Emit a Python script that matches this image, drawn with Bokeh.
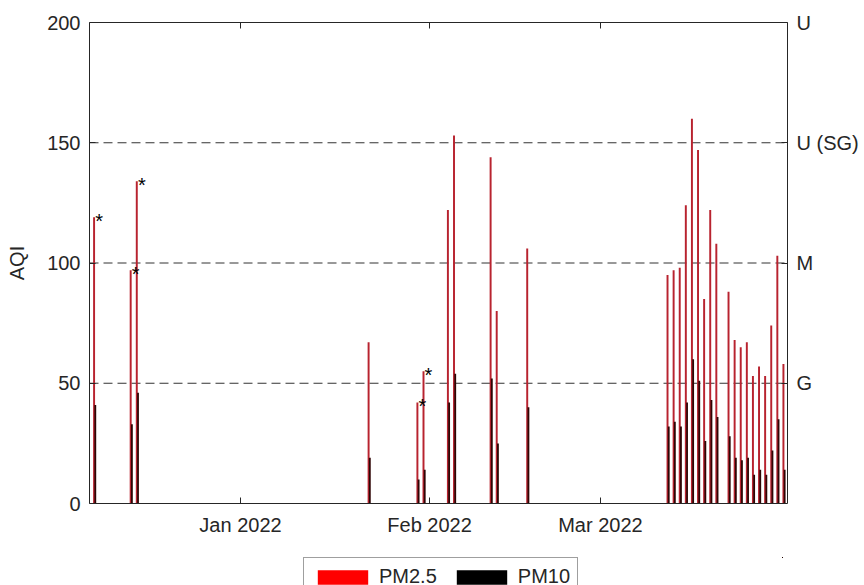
from datetime import datetime
from bokeh.plotting import figure
from bokeh.layouts import column
from bokeh.models import (ColumnDataSource, Range1d, LinearAxis, DatetimeAxis, FixedTicker,
                          Span, Legend, LegendItem)
from bokeh.core.properties import value
from bokeh.transform import dodge
from bokeh.embed import file_html
from bokeh.resources import INLINE

# ---------------- data ----------------
dates = ["2021-12-08", "2021-12-14", "2021-12-15",
         "2022-01-22", "2022-01-30", "2022-01-31",
         "2022-02-04", "2022-02-05", "2022-02-11", "2022-02-12", "2022-02-17",
         "2022-03-12", "2022-03-13", "2022-03-14", "2022-03-15", "2022-03-16",
         "2022-03-17", "2022-03-18", "2022-03-19", "2022-03-20",
         "2022-03-22", "2022-03-23", "2022-03-24", "2022-03-25", "2022-03-26",
         "2022-03-27", "2022-03-28", "2022-03-29", "2022-03-30", "2022-03-31"]
pm25 = [119, 97, 134,
        67, 42, 55,
        122, 153, 144, 80, 106,
        95, 97, 98, 124, 160, 147, 85, 122, 108,
        88, 68, 65, 67, 53, 57, 53, 74, 103, 58]
pm10 = [41, 33, 46,
        19, 10, 14,
        42, 54, 52, 25, 40,
        32, 34, 32, 42, 60, 51, 26, 43, 36,
        28, 19, 18, 19, 12, 14, 12, 22, 35, 14]

star_dates = ["2021-12-08", "2021-12-14", "2021-12-15", "2022-01-30", "2022-01-31"]
star_values = [119, 97, 134, 42, 55]

y_ticks = [0, 50, 100, 150, 200]
aqi_levels = [50, 100, 150, 200]
aqi_labels = ["G", "M", "U (SG)", "U"]
month_ticks = ["2022-01-01", "2022-02-01", "2022-03-01"]
month_labels = ["Jan 2022", "Feb 2022", "Mar 2022"]
series_names = ["PM2.5", "PM10"]

# ---------------- helpers ----------------
DAY = 86400000.0
EPOCH = datetime(1970, 1, 1)


def ms(s):
    d = datetime.fromisoformat(s) if isinstance(s, str) else s
    return (d - EPOCH).total_seconds() * 1000.0


FONT = "Liberation Sans"
TXT = "#262626"

x_start = ms(datetime(2021, 12, 7, 6))
x_end = ms(datetime(2022, 3, 31, 16))

p = figure(x_axis_type="datetime",
           x_range=Range1d(x_start, x_end), y_range=Range1d(0, 200),
           frame_width=698, frame_height=481,
           min_border_left=89, min_border_right=69, min_border_top=22, min_border_bottom=54,
           output_backend="svg", toolbar_location=None,
           background_fill_color="white", border_fill_color="white",
           outline_line_color=None)
p.xgrid.visible = False
p.ygrid.visible = False

src = ColumnDataSource(dict(date=[ms(d) for d in dates], pm25=pm25, pm10=pm10))

# threshold dashed lines
for lvl in aqi_levels[:-1]:
    p.add_layout(Span(location=lvl, dimension="width", line_dash="9 5",
                      line_color="#333333", line_width=1, level="underlay"))

p.vbar(x="date", top="pm25", width=0.32 * DAY, source=src,
       fill_color="#b8232f", line_color=None)
p.vbar(x=dodge("date", 0.2 * DAY, range=p.x_range), top="pm10", width=0.3 * DAY,
       source=src, fill_color="#2e0505", line_color=None)

star_src = ColumnDataSource(dict(date=[ms(d) for d in star_dates], val=star_values,
                                 mark=["*"] * len(star_dates)))
p.text(x="date", y="val", text="mark", source=star_src,
       text_font=value(FONT), text_font_size="20px", text_color="black",
       text_align="center", text_baseline="middle", x_offset=5, y_offset=4)


def style_axis(ax):
    ax.axis_line_color = TXT
    ax.axis_line_width = 1
    ax.major_tick_line_color = TXT
    ax.major_tick_in = 6
    ax.major_tick_out = 0
    ax.minor_tick_line_color = None
    ax.major_label_text_font = FONT
    ax.major_label_text_font_size = "20px"
    ax.major_label_text_color = TXT


# left axis
yl = p.yaxis[0]
yl.ticker = FixedTicker(ticks=y_ticks)
style_axis(yl)
yl.major_label_standoff = 9
yl.axis_label = "AQI"
yl.axis_label_text_font = FONT
yl.axis_label_text_font_size = "20px"
yl.axis_label_text_font_style = "normal"
yl.axis_label_text_color = TXT
yl.axis_label_standoff = 16

# bottom axis
month_ms = [ms(m) for m in month_ticks]
xb = p.xaxis[0]
xb.ticker = FixedTicker(ticks=month_ms)
xb.major_label_overrides = {int(v): lab for v, lab in zip(month_ms, month_labels)}
style_axis(xb)
xb.major_label_standoff = 10

# top axis (tick marks only)
xt = DatetimeAxis(ticker=FixedTicker(ticks=month_ms))
style_axis(xt)
xt.major_label_overrides = {int(v): "" for v in month_ms}
xt.major_label_standoff = 0
p.add_layout(xt, "above")

# right axis with AQI categories
yr = LinearAxis(ticker=FixedTicker(ticks=aqi_levels),
                major_label_overrides={v: lab for v, lab in zip(aqi_levels, aqi_labels)})
style_axis(yr)
yr.major_label_standoff = 9
p.add_layout(yr, "right")

# ---------------- legend strip below the chart ----------------
lg = figure(width=856, height=28, x_range=Range1d(0, 1), y_range=Range1d(0, 1),
            x_axis_location=None, y_axis_location=None,
            min_border=0, min_border_left=0, min_border_right=0,
            min_border_top=0, min_border_bottom=0,
            output_backend="svg", toolbar_location=None,
            background_fill_color="white", border_fill_color="white",
            outline_line_color=None)
lg.xgrid.visible = False
lg.ygrid.visible = False
# zero-height bars: they draw nothing, they only carry the swatch colours
sw_red = lg.vbar(x="date", top="pm25", bottom="pm25", width=1, source=src,
                 fill_color="#ff0000", line_color=None)
sw_blk = lg.vbar(x="date", top="pm10", bottom="pm10", width=1, source=src,
                 fill_color="#000000", line_color=None)
legend = Legend(items=[LegendItem(label=series_names[0], renderers=[sw_red]),
                       LegendItem(label=series_names[1], renderers=[sw_blk])],
                orientation="horizontal", location=(214, -11),
                glyph_width=63, glyph_height=18, label_height=18,
                label_text_font=FONT, label_text_font_size="20px", label_text_color=TXT,
                label_standoff=5, spacing=13, padding=7, margin=0,
                border_line_color="#404040", border_line_width=1,
                background_fill_color="white", background_fill_alpha=1.0)
lg.add_layout(legend, "center")

layout = column(p, lg, spacing=0)
open("out.html", "w").write(file_html(layout, INLINE))
